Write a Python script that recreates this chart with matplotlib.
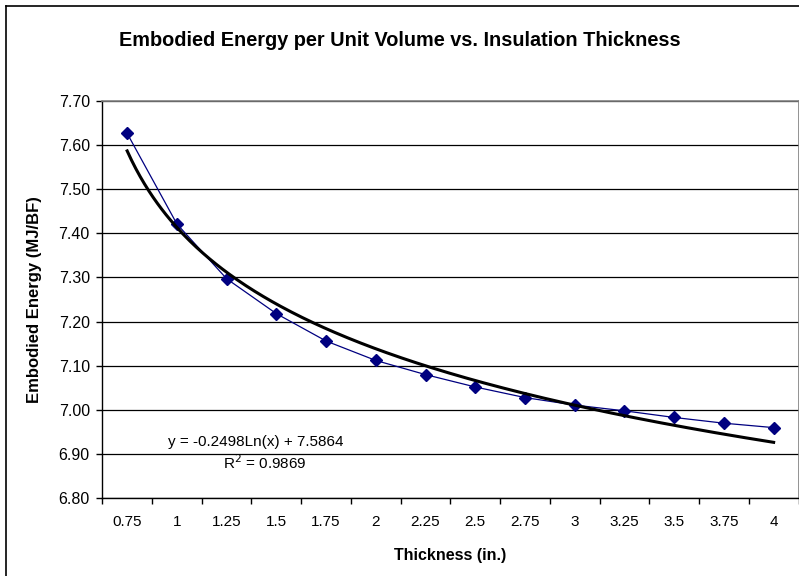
import numpy as np
import matplotlib
matplotlib.use("Agg")
import matplotlib.pyplot as plt
from matplotlib.lines import Line2D

plt.rcParams['font.family'] = ['Liberation Sans', 'DejaVu Sans']

# ---- data ----
thickness_labels = ["0.75", "1", "1.25", "1.5", "1.75", "2", "2.25", "2.5",
                    "2.75", "3", "3.25", "3.5", "3.75", "4"]
embodied_energy = [7.626, 7.421, 7.297, 7.218, 7.156, 7.112, 7.080, 7.052,
                   7.028, 7.011, 6.998, 6.983, 6.970, 6.960]
y_ticks = [6.80, 6.90, 7.00, 7.10, 7.20, 7.30, 7.40, 7.50, 7.60, 7.70]
trend_equation = "y = -0.2498Ln(x) + 7.5864"
trend_r2 = "R$^2$ = 0.9869"

W, H = 799, 576
fig = plt.figure(figsize=(W / 100, H / 100), dpi=100)
fig.patch.set_facecolor("white")

left, right, top, bottom = 102.3, 798.5, 100.7, 498.3
ax = fig.add_axes([left / W, 1 - bottom / H, (right - left) / W, (bottom - top) / H])

n = len(thickness_labels)
xs = np.arange(n)

# logarithmic trendline fitted on category index (1..n), Excel-style
idx = xs + 1
coef = np.polyfit(np.log(idx), embodied_energy, 1)
xt = np.linspace(1, n, 300)
yt = coef[0] * np.log(xt) + coef[1]

ax.plot(xs, embodied_energy, color="#000080", lw=0.9, marker="D", markersize=6,
        markerfacecolor="#000080", markeredgecolor="#000080", zorder=3)
ax.plot(xt - 1, yt, color="black", lw=2.2, zorder=4)

ax.set_xlim(-0.5, n - 0.5)
ax.set_ylim(6.80, 7.70)
ax.set_yticks(y_ticks)
ax.set_yticklabels([f"{v:.2f}" for v in y_ticks])
ax.set_xticks(xs)
ax.set_xticklabels(thickness_labels)
ax.set_xticks(np.arange(n + 1) - 0.5, minor=True)
ax.tick_params(axis="x", which="major", length=0, pad=12, labelsize=11)
ax.tick_params(axis="x", which="minor", length=4, width=1, direction="out", color="black")
ax.tick_params(axis="y", which="major", length=4, width=1, direction="out", pad=5,
               labelsize=11.5, color="black")

ax.grid(axis="y", color="black", lw=0.9)
ax.set_axisbelow(True)
for s in ("top", "right"):
    ax.spines[s].set_color("#808080")
    ax.spines[s].set_linewidth(1.2)
for s in ("left", "bottom"):
    ax.spines[s].set_color("black")
    ax.spines[s].set_linewidth(1.0)

ax.set_xlabel("Thickness (in.)", fontsize=11.5, fontweight="bold", labelpad=14)
ax.set_ylabel("Embodied Energy (MJ/BF)", fontsize=12, fontweight="bold", labelpad=12)

fig.text(400 / W, 1 - 40 / H, "Embodied Energy per Unit Volume vs. Insulation Thickness",
         ha="center", va="center", fontsize=14.3, fontweight="bold")

fig.text(256 / W, 1 - 442 / H, trend_equation, ha="center", va="center", fontsize=11)
fig.text(265 / W, 1 - 463 / H, trend_r2, ha="center", va="center", fontsize=11)

# chart-area border (left and top edges visible)
fig.add_artist(Line2D([6 / W, 6 / W], [0, 1 - 6 / H], color="black", lw=1.2,
                      transform=fig.transFigure))
fig.add_artist(Line2D([6 / W, 1], [1 - 6 / H, 1 - 6 / H], color="black", lw=1.2,
                      transform=fig.transFigure))

fig.savefig("out.png", dpi=100)
